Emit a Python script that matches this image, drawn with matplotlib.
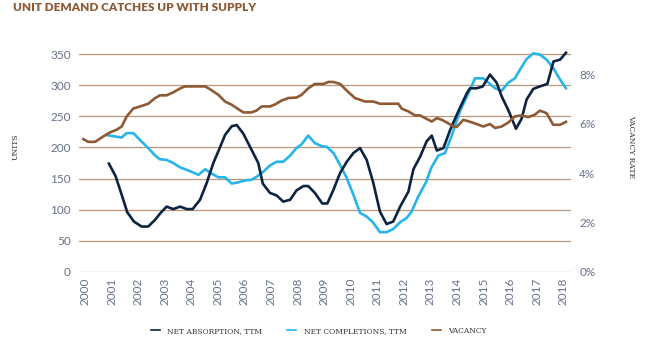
import matplotlib
matplotlib.use("Agg")
import matplotlib.pyplot as plt

# Net absorption, trailing twelve months (units)
absorption_year = [2000.90, 2001.15, 2001.38, 2001.59, 2001.84, 2002.13, 2002.38, 2002.64, 2002.85,
                   2003.07, 2003.32, 2003.58, 2003.83, 2004.05, 2004.33, 2004.58, 2004.83, 2005.04,
                   2005.27, 2005.52, 2005.71, 2005.96, 2006.27, 2006.52, 2006.69, 2006.96, 2007.21,
                   2007.46, 2007.72, 2007.96, 2008.22, 2008.40, 2008.65, 2008.93, 2009.12, 2009.35,
                   2009.60, 2009.85, 2010.10, 2010.35, 2010.60, 2010.85, 2011.10, 2011.35, 2011.60,
                   2011.86, 2012.17, 2012.36, 2012.61, 2012.86, 2013.05, 2013.24, 2013.49, 2013.74,
                   2014.05, 2014.37, 2014.49, 2014.74, 2014.97, 2015.24, 2015.49, 2015.68, 2015.93,
                   2016.22, 2016.43, 2016.62, 2016.87, 2017.12, 2017.40, 2017.63, 2017.88, 2018.10]
absorption = [174, 154, 124, 96, 81, 73, 73, 84, 95,
              105, 101, 105, 101, 101, 116, 143, 175, 196,
              220, 234, 236, 222, 196, 175, 142, 127, 123,
              113, 116, 131, 138, 138, 127, 110, 110, 132,
              159, 177, 191, 199, 180, 143, 97, 77, 81,
              105, 129, 165, 185, 210, 219, 195, 199, 228,
              258, 287, 295, 295, 298, 317, 304, 282, 260,
              230, 246, 277, 294, 298, 302, 338, 341, 352]

# Net completions, trailing twelve months (units)
completion_year = [2000.81, 2001.07, 2001.38, 2001.57, 2001.82, 2002.07, 2002.38, 2002.64, 2002.82,
                   2003.07, 2003.32, 2003.58, 2003.89, 2004.27, 2004.52, 2004.77, 2005.02, 2005.27,
                   2005.52, 2005.77, 2006.02, 2006.27, 2006.46, 2006.71, 2006.96, 2007.21, 2007.46,
                   2007.72, 2007.96, 2008.15, 2008.40, 2008.65, 2008.91, 2009.10, 2009.35, 2009.60,
                   2009.85, 2010.10, 2010.35, 2010.60, 2010.85, 2011.10, 2011.35, 2011.60, 2011.86,
                   2012.11, 2012.29, 2012.54, 2012.83, 2013.05, 2013.30, 2013.55, 2013.80, 2014.11,
                   2014.43, 2014.68, 2014.99, 2015.18, 2015.43, 2015.68, 2015.93, 2016.18, 2016.37,
                   2016.62, 2016.87, 2017.12, 2017.37, 2017.63, 2017.88, 2018.10]
completions = [220, 218, 216, 223, 223, 212, 199, 187, 181,
               180, 175, 168, 163, 156, 165, 158, 152, 152,
               142, 144, 147, 148, 153, 161, 171, 177, 177,
               187, 199, 205, 219, 207, 202, 201, 191, 172,
               151, 124, 95, 89, 79, 64, 64, 69, 80,
               87, 97, 121, 144, 169, 187, 191, 219, 258,
               287, 311, 311, 304, 295, 291, 304, 311, 325,
               342, 351, 349, 341, 327, 309, 295]

# Vacancy rate (%)
vacancy_year = [1999.94, 2000.12, 2000.38, 2000.69, 2000.94, 2001.19, 2001.38, 2001.57, 2001.82,
                2002.07, 2002.38, 2002.64, 2002.82, 2003.07, 2003.32, 2003.58, 2003.76, 2004.08,
                2004.52, 2004.70, 2005.02, 2005.27, 2005.52, 2005.77, 2005.96, 2006.27, 2006.46,
                2006.65, 2006.96, 2007.15, 2007.40, 2007.65, 2007.96, 2008.15, 2008.40, 2008.65,
                2008.97, 2009.16, 2009.35, 2009.60, 2009.85, 2010.16, 2010.54, 2010.85, 2011.10,
                2011.79, 2011.92, 2012.17, 2012.42, 2012.61, 2012.80, 2013.05, 2013.24, 2013.43,
                2013.62, 2013.87, 2013.99, 2014.24, 2014.49, 2014.74, 2014.99, 2015.24, 2015.43,
                2015.68, 2015.93, 2016.18, 2016.43, 2016.68, 2016.93, 2017.12, 2017.37, 2017.62,
                2017.88, 2018.10]
vacancy = [5.37, 5.26, 5.26, 5.48, 5.64, 5.75, 5.88, 6.29, 6.61,
           6.69, 6.80, 7.03, 7.14, 7.14, 7.26, 7.42, 7.50, 7.50,
           7.50, 7.39, 7.16, 6.89, 6.76, 6.58, 6.45, 6.45, 6.53,
           6.69, 6.69, 6.77, 6.93, 7.03, 7.05, 7.16, 7.42, 7.60,
           7.60, 7.68, 7.68, 7.60, 7.33, 7.03, 6.89, 6.89, 6.80,
           6.80, 6.60, 6.49, 6.33, 6.33, 6.22, 6.08, 6.22, 6.15,
           6.04, 5.88, 5.86, 6.15, 6.07, 5.98, 5.88, 5.98, 5.82,
           5.88, 6.04, 6.29, 6.33, 6.26, 6.36, 6.52, 6.42, 5.95,
           5.95, 6.07]

years = list(range(2000, 2019))
unit_ticks = [0, 50, 100, 150, 200, 250, 300, 350]
rate_ticks = [0, 2, 4, 6, 8]

NAVY = "#0c2341"
SKY = "#27b5e9"
BROWN = "#8d5a34"
GRID = "#b8977a"
TICK = "#66718a"

W, H = 656, 352
fig = plt.figure(figsize=(W / 100, H / 100), dpi=100)
ax = fig.add_axes([79 / W, 80 / H, 492 / W, 221.1 / H])
ax2 = ax.twinx()

ax.set_xlim(1999.774, 2018.29)
ax.set_ylim(0, 355)
ax2.set_ylim(0, 355 / 39.73)

for v in unit_ticks:
    ax.axhline(v, color=GRID, lw=0.9, zorder=0)

ax.plot(absorption_year, absorption, color=NAVY, lw=1.9, label="NET ABSORPTION, TTM", zorder=3)
ax.plot(completion_year, completions, color=SKY, lw=1.9, label="NET COMPLETIONS, TTM", zorder=2)
ax2.plot(vacancy_year, vacancy, color=BROWN, lw=1.9, label="VACANCY", zorder=2)

for a in (ax, ax2):
    for s in a.spines.values():
        s.set_visible(False)
    a.tick_params(length=0, colors=TICK, labelsize=8.5)

ax.set_yticks(unit_ticks)
ax.set_xticks(years)
ax.set_xticklabels([str(y) for y in years], rotation=90)
ax.tick_params(axis="x", pad=4)
ax.tick_params(axis="y", pad=6)
ax2.set_yticks(rate_ticks)
ax2.set_yticklabels([f"{t}%" for t in rate_ticks])
ax2.tick_params(axis="y", pad=6)

for lab in ax.get_xticklabels() + ax.get_yticklabels() + ax2.get_yticklabels():
    lab.set_family("Lato")
    lab.set_fontweight("normal")

fig.text(13 / W, 1 - 7.8 / H, "UNIT DEMAND CATCHES UP WITH SUPPLY", color=BROWN,
         fontsize=8.5, fontweight="heavy", family="Lato", va="center", ha="left")
fig.text(16 / W, 1 - 147 / H, "UNITS", rotation=90, fontsize=5.5, family="DejaVu Serif",
         color="#333333", ha="center", va="center")
fig.text(631 / W, 1 - 147 / H, "VACANCY RATE", rotation=270, fontsize=5.5, family="DejaVu Serif",
         color="#333333", ha="center", va="center")

h1, l1 = ax.get_legend_handles_labels()
h2, l2 = ax2.get_legend_handles_labels()
leg = fig.legend(h1 + h2, l1 + l2, loc="center", bbox_to_anchor=(318.5 / W, 21 / H), ncol=3,
                 frameon=False, handlelength=1.2, handletextpad=0.95, columnspacing=3.4,
                 prop={"family": "DejaVu Serif", "size": 5.4})
for t in leg.get_texts():
    t.set_color("#333333")
for ln in leg.get_lines():
    ln.set_linewidth(1.2)

fig.savefig("out.png", dpi=100)
